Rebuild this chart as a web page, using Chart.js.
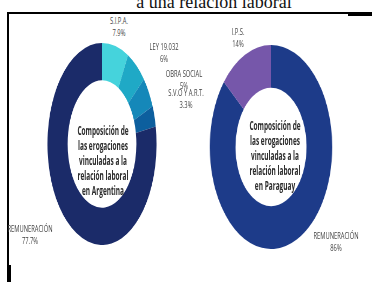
<!DOCTYPE html>
<html>
<head>
<meta charset="utf-8">
<script src="https://cdn.jsdelivr.net/npm/chart.js@4.4.0/dist/chart.umd.min.js"></script>
<style>
html, body { margin: 0; padding: 0; background: #fff; }
body { width: 372px; height: 282px; overflow: hidden; position: relative; font-family: "Open Sans", sans-serif; }
#title { position: absolute; left: 0; width: 428px; top: -7px; text-align: center; font-family: "Liberation Serif", "Times New Roman", serif; font-size: 18px; line-height: 18px; color: #111; }
.line { position: absolute; background: #000; }
.wrap { position: absolute; }
.lbl { position: absolute; width: 100px; margin-left: -50px; text-align: center; font-size: 8.5px; line-height: 12px; color: #444; transform: scaleX(0.68); white-space: nowrap; }
.center { position: absolute; width: 140px; margin-left: -70px; text-align: center; font-weight: bold; font-size: 12.5px; line-height: 15px; color: #2b2b2b; transform: scaleX(0.52); white-space: nowrap; }
</style>
</head>
<body>
<div id="title">a una relación laboral</div>
<div class="line" style="left:7px; top:12px; width:365px; height:1.5px;"></div>
<div class="line" style="left:348px; top:13px; width:24px; height:3px;"></div>
<div class="line" style="left:7px; top:12px; width:1.5px; height:262px;"></div>
<div class="line" style="left:7px; top:265px; width:4px; height:17px;"></div>

<div class="wrap" id="argWrap" style="left:1px; top:43px; width:202px; height:202px; transform: scaleX(0.54);"><canvas id="argChart"></canvas></div>
<div class="wrap" id="pyWrap" style="left:169px; top:45px; width:204px; height:204px; transform: scaleX(0.6);"><canvas id="pyChart"></canvas></div>

<div id="labels"></div>

<script>
// Argentina
const argLabels = ['S.I.P.A.', 'LEY 19.032', 'OBRA SOCIAL', 'S.V.O Y A.R.T.', 'REMUNERACIÓN'];
const argValues = [7.9, 6, 5, 3.3, 77.7];
const argColors = ['#45d3dc', '#1fa9c6', '#1588b9', '#0d5f9e', '#1b2b69'];
const argTitle = ['Composición de', 'las erogaciones', 'vinculadas a la', 'relación laboral', 'en Argentina'];

// Paraguay
const pyLabels = ['REMUNERACIÓN', 'I.P.S.'];
const pyValues = [86, 14];
const pyColors = ['#1d3b89', '#7657aa'];
const pyTitle = ['Composición de', 'las erogaciones', 'vinculadas a la', 'relación laboral', 'en Paraguay'];

// where the outside labels sit (page px, centre of text)
const argLabelPos = [[119, 15], [164, 41], [184, 68], [186, 87], [30, 223]];
const pyLabelPos = [[336, 230], [238, 26]];

function makeDonut(id, labels, values, colors, cutout) {
    const ctx = document.getElementById(id).getContext('2d');
    return new Chart(ctx, {
        type: 'doughnut',
        data: {
            labels: labels,
            datasets: [{
                data: values,
                backgroundColor: colors,
                borderWidth: 0
            }]
        },
        options: {
            responsive: true,
            maintainAspectRatio: false,
            animation: false,
            cutout: cutout,
            layout: { padding: 0 },
            plugins: {
                legend: { display: false },
                tooltip: { enabled: false }
            }
        }
    });
}

function addLabels(labels, values, pos) {
    const box = document.getElementById('labels');
    labels.forEach((name, i) => {
        const d = document.createElement('div');
        d.className = 'lbl';
        d.style.left = pos[i][0] + 'px';
        d.style.top = pos[i][1] + 'px';
        d.innerHTML = name + '<br>' + values[i] + '%';
        box.appendChild(d);
    });
}

function addCenter(lines, x, y) {
    const d = document.createElement('div');
    d.className = 'center';
    d.style.left = x + 'px';
    d.style.top = y + 'px';
    d.innerHTML = lines.join('<br>');
    document.getElementById('labels').appendChild(d);
}

makeDonut('argChart', argLabels, argValues, argColors, '63%');
makeDonut('pyChart', pyLabels, pyValues, pyColors, '58%');

addLabels(argLabels, argValues, argLabelPos);
addLabels(pyLabels, pyValues, pyLabelPos);

addCenter(argTitle, 103, 123);
addCenter(pyTitle, 275, 118);
</script>
</body>
</html>
